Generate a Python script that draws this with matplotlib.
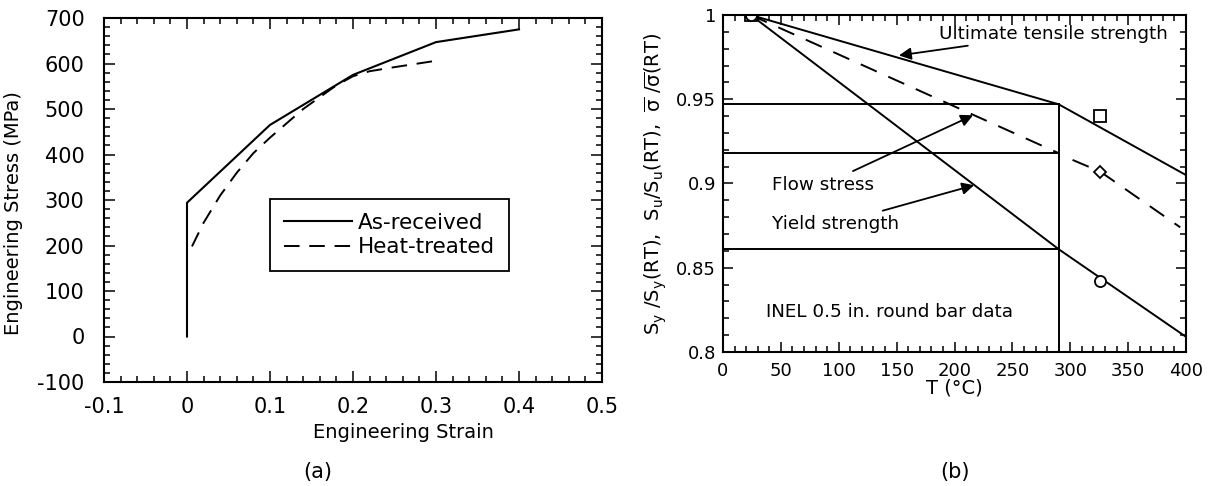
import matplotlib
matplotlib.use("Agg")
import matplotlib.pyplot as plt
from matplotlib.ticker import MultipleLocator

plt.rcParams['font.family'] = ['DejaVu Sans']
plt.rcParams['mathtext.fontset'] = 'dejavusans'
plt.rcParams['axes.unicode_minus'] = False

# (a) engineering stress-strain curves
strain_ar = [0.0, 0.0, 0.1, 0.2, 0.3, 0.4]
stress_ar = [0, 294, 465, 575, 647, 675]
strain_ht = [0.006, 0.02, 0.04, 0.06, 0.08, 0.1, 0.14, 0.18, 0.2, 0.22, 0.25, 0.3]
stress_ht = [198, 250, 310, 360, 403, 437, 500, 552, 572, 583, 592, 606]

# (b) normalized strength vs temperature
temp_uts = [24, 290, 400]
ratio_uts = [1.0, 0.947, 0.905]
temp_flow = [24, 290]
ratio_flow = [1.0, 0.918]
temp_flow_hi = [302, 326, 395]
ratio_flow_hi = [0.914, 0.907, 0.874]
temp_ys = [24, 290, 400]
ratio_ys = [1.0, 0.861, 0.809]
temp_pts = [24, 326]
uts_pts = [1.0, 0.940]
flow_pts = [1.0, 0.907]
ys_pts = [1.0, 0.842]
ref_levels = [0.947, 0.918, 0.861]
ref_temp = 290

W, H = 1215, 486
fig = plt.figure(figsize=(W / 100, H / 100), dpi=100)


def box(x0, y0, x1, y1):
    return [x0 / W, 1 - y1 / H, (x1 - x0) / W, (y1 - y0) / H]


def style_axes(ax, size, major, minor, ypad, xpad):
    ax.tick_params(which='both', direction='in', top=True, right=True,
                   labelsize=size, width=1.1)
    ax.tick_params(axis='y', pad=ypad)
    ax.tick_params(axis='x', pad=xpad)
    ax.tick_params(which='major', length=major)
    ax.tick_params(which='minor', length=minor)
    for s in ax.spines.values():
        s.set_linewidth(1.5)


# ---- (a)
ax1 = fig.add_axes(box(104, 18, 602, 382))
ax1.plot(strain_ar, stress_ar, color='black', lw=1.5, label='As-received')
ax1.plot(strain_ht, stress_ht, color='black', lw=1.4, dashes=(8, 5),
         label='Heat-treated')
ax1.set_xlim(-0.1, 0.5)
ax1.set_ylim(-100, 700)
ax1.set_xticks([-0.1, 0, 0.1, 0.2, 0.3, 0.4, 0.5])
ax1.set_xticklabels(['-0.1', '0', '0.1', '0.2', '0.3', '0.4', '0.5'])
ax1.xaxis.set_minor_locator(MultipleLocator(0.02))
ax1.yaxis.set_major_locator(MultipleLocator(100))
ax1.yaxis.set_minor_locator(MultipleLocator(20))
ax1.set_xlabel('Engineering Strain', fontsize=14)
ax1.set_ylabel('Engineering Stress (MPa)', fontsize=14)
ax1.xaxis.set_label_coords(0.602, -0.113)
ax1.yaxis.set_label_coords(-0.163, 0.464)
style_axes(ax1, 15, 8, 4, 14, 11)
leg = ax1.legend(loc='upper left', bbox_to_anchor=(0.333, 0.503),
                 borderaxespad=0, fontsize=15.5, frameon=True, fancybox=False,
                 edgecolor='black', framealpha=1, handlelength=3.15,
                 borderpad=0.65, labelspacing=0.2, handletextpad=0.3)
leg.get_frame().set_linewidth(1.3)
fig.text(318 / W, 1 - 472 / H, '(a)', ha='center', va='center', fontsize=15)

# ---- (b)
ax2 = fig.add_axes(box(723, 15, 1186, 352))
for lvl in ref_levels:
    ax2.plot([0, ref_temp], [lvl, lvl], color='black', lw=1.4)
ax2.plot([ref_temp, ref_temp], [0.8, ref_levels[0]], color='black', lw=1.4)
ax2.plot(temp_uts, ratio_uts, color='black', lw=1.4)
ax2.plot(temp_ys, ratio_ys, color='black', lw=1.4)
ax2.plot(temp_flow, ratio_flow, color='black', lw=1.4, dashes=(9, 6.5))
ax2.plot(temp_flow_hi, ratio_flow_hi, color='black', lw=1.4, dashes=(9, 6.5))
ax2.plot(temp_pts, uts_pts, ls='none', marker='s', ms=8.5, mfc='white',
         mec='black', mew=1.3)
ax2.plot(temp_pts, flow_pts, ls='none', marker='D', ms=6, mfc='white',
         mec='black', mew=1.3)
ax2.plot(temp_pts, ys_pts, ls='none', marker='o', ms=8, mfc='white',
         mec='black', mew=1.3)
ax2.set_xlim(0, 400)
ax2.set_ylim(0.8, 1.0)
ax2.xaxis.set_major_locator(MultipleLocator(50))
ax2.xaxis.set_minor_locator(MultipleLocator(10))
ax2.set_yticks([0.8, 0.85, 0.9, 0.95, 1.0])
ax2.set_yticklabels(['0.8', '0.85', '0.9', '0.95', '1'])
ax2.yaxis.set_minor_locator(MultipleLocator(0.01))
ax2.set_xlabel('T (°C)', fontsize=14)
ax2.set_ylabel(r'S$_\mathrm{y}$ /S$_\mathrm{y}$(RT),  S$_\mathrm{u}$/S$_\mathrm{u}$(RT),  '
               r'$\overline{\mathrm{\sigma}}$ /$\overline{\mathrm{\sigma}}$(RT)',
               fontsize=14)
ax2.xaxis.set_label_coords(0.5, -0.08)
ax2.yaxis.set_label_coords(-0.117, 0.5)
style_axes(ax2, 13, 7, 4, 5, 7)

fa = 13.2
arrow = dict(arrowstyle='-|>', color='black', lw=1.3, mutation_scale=18)
ax2.annotate('Ultimate tensile strength', xy=(152, 0.976), xytext=(187, 0.989),
             fontsize=fa, va='center', ha='left',
             arrowprops=dict(arrow, shrinkA=2, shrinkB=0))
ax2.annotate('Flow stress', xy=(216, 0.9405), xytext=(42, 0.899),
             fontsize=fa, va='center', ha='left',
             arrowprops=dict(arrow, shrinkA=4, shrinkB=0))
ax2.annotate('Yield strength', xy=(217, 0.899), xytext=(42, 0.876),
             fontsize=fa, va='center', ha='left',
             arrowprops=dict(arrow, shrinkA=4, shrinkB=0))
ax2.text(37, 0.8235, 'INEL 0.5 in. round bar data', fontsize=fa,
         va='center', ha='left')
fig.text(955 / W, 1 - 472 / H, '(b)', ha='center', va='center', fontsize=15)

fig.savefig('out.png', dpi=100)
